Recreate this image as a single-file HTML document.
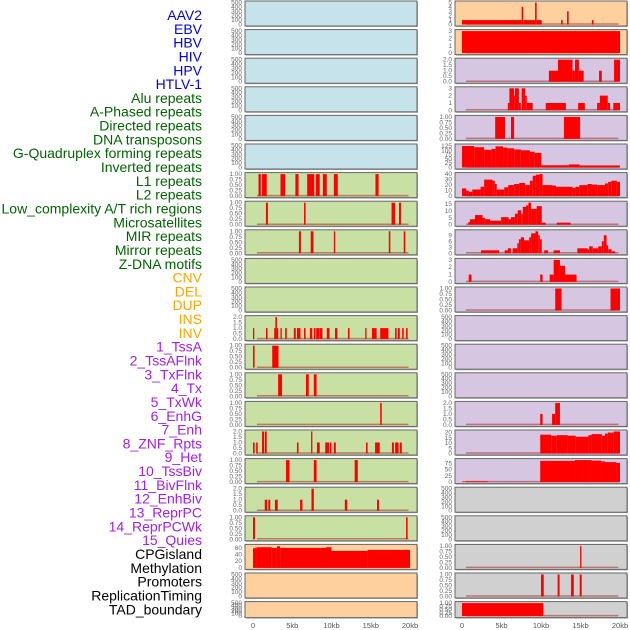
<!DOCTYPE html>
<html><head><meta charset="utf-8">
<style>
html,body{margin:0;padding:0;background:#fff;}
body{width:630px;height:630px;overflow:hidden;font-family:"Liberation Sans",sans-serif;}
svg{display:block;}
</style></head>
<body>
<svg id="chart" width="630" height="630" viewBox="0 0 630 630" xmlns="http://www.w3.org/2000/svg"></svg>
<script>
// ---- category labels ----
const labels = ["AAV2","EBV","HBV","HIV","HPV","HTLV-1","Alu repeats","A-Phased repeats","Directed repeats","DNA transposons","G-Quadruplex forming repeats","Inverted repeats","L1 repeats","L2 repeats","Low_complexity A/T rich regions","Microsatellites","MIR repeats","Mirror repeats","Z-DNA motifs","CNV","DEL","DUP","INS","INV","1_TssA","2_TssAFlnk","3_TxFlnk","4_Tx","5_TxWk","6_EnhG","7_Enh","8_ZNF_Rpts","9_Het","10_TssBiv","11_BivFlnk","12_EnhBiv","13_ReprPC","14_ReprPCWk","15_Quies","CPGisland","Methylation","Promoters","ReplicationTiming","TAD_boundary"];
const labelGroups = ["v","v","v","v","v","v","r","r","r","r","r","r","r","r","r","r","r","r","r","s","s","s","s","s","c","c","c","c","c","c","c","c","c","c","c","c","c","c","c","o","o","o","o","o"];
const xTickLabels = ["0","5kb","10kb","15kb","20kb"];
const xTickValues = [0,5,10,15,20];

// ---- left column data: [startKb, endKb, value] ----
const L_L1 = [[0.7,1.0,1],[1.15,1.75,1],[3.5,4.1,1],[5.4,5.8,1],[6.9,7.8,1],[8.0,8.5,1],[8.9,9.4,1],[10.3,10.8,1],[15.6,16.0,1]];
const L_L2 = [[1.65,1.9,1],[6.5,6.7,1],[17.65,18.1,1],[18.6,18.85,1]];
const L_Low = [[5.85,6.1,1],[7.35,7.7,1],[10.3,10.45,1],[17.3,17.5,1],[19.2,19.4,1]];
const L_INS = [[0,0.1,1],[1.65,1.85,1],[2.7,2.85,1],[2.85,3.05,2],[3.05,3.2,1],[3.5,3.65,1],[4.1,4.3,1],[5.2,5.45,1],[5.6,6.05,1],[6.5,6.7,1],[7.25,7.55,1],[7.75,7.95,1],[8.05,8.45,1],[8.5,8.85,1],[9.4,9.75,1],[10.45,10.75,1],[12.1,12.3,1],[14.3,14.45,1],[15.15,15.75,1],[16.2,17.25,1],[18.1,18.3,1],[18.45,18.7,1],[19.0,19.2,1],[19.5,19.7,1]];
const L_INV = [[0,0.2,1],[2.45,3.25,1]];
const L_TssA = [[3.2,3.7,1],[6.75,7.1,1],[7.75,8.1,1]];
const L_TssAFlnk = [[16.2,16.4,1]];
const L_TxFlnk = [[0,0.2,1],[0.4,0.6,1],[1.15,1.4,2],[1.5,1.75,2],[5.6,5.8,1],[7.4,7.55,2],[8.15,8.5,1],[9.2,9.7,1],[9.8,10.0,1],[10.3,10.55,1],[14.4,14.6,1],[15.55,16.15,1],[17.7,17.95,1],[18.1,18.55,1],[18.7,18.95,1]];
const L_Tx = [[4.2,4.65,1],[7.75,8.1,1],[12.95,13.35,1]];
const L_TxWk = [[1.5,1.8,1],[1.95,2.2,1],[2.8,3.15,1],[6.0,6.3,1],[7.45,7.75,2],[11.7,12.0,1],[15.8,16.05,1]];
const L_EnhG = [[0,0.25,1],[19.5,19.7,1]];
const L_Enh = [[0,0.45,59],[0.45,2.4,62],[2.4,3.05,60],[3.05,3.45,65],[3.45,9.3,60],[9.3,10.0,62],[10.0,14.6,51],[14.6,20,54]];
const L_EMPTY = [];

// ---- right column data ----
const R_AAV2 = [[0,7.55,1],[7.55,7.75,4],[7.75,9.25,1],[9.25,9.45,5],[9.45,10.1,1],[12.55,12.75,1],[13.3,13.5,3],[16.45,16.65,1]];
const R_EBV = [[0,20,3]];
const R_HIV = [[11.0,12.15,1],[12.15,14.0,2],[14.0,14.3,1],[14.3,14.8,2],[14.8,15.4,1],[17.35,17.7,1],[19.25,20,2]];
const R_HPV = [[5.8,6.0,1],[6.0,6.6,3],[6.6,6.7,2],[6.7,7.2,3],[7.2,7.45,1],[7.55,8.0,3],[8.0,8.2,2],[8.2,8.95,1],[10.6,13.15,1],[14.7,15.55,1],[17.1,17.45,1],[17.45,18.45,2],[18.45,18.75,1],[19.15,20,1]];
const R_HTLV = [[4.2,5.45,1],[6.2,6.6,1],[12.9,14.95,1]];
const R_Alu = [[0,1.55,125],[1.55,2.8,118],[2.8,3.75,103],[3.75,4.25,108],[4.25,5.2,123],[5.2,5.75,116],[5.75,6.6,112],[6.6,7.45,105],[7.45,8.6,100],[8.6,9.2,92],[9.2,10.05,85],[10.05,13.5,13],[13.5,14.9,18],[14.9,20,12]];
const R_APhased = [[0,0.55,14],[0.55,0.85,10],[0.85,1.3,8],[1.3,2.35,12],[2.35,2.8,17],[2.8,3.85,30],[3.85,4.15,28],[4.15,4.4,22],[4.4,5.35,12],[5.35,5.85,16],[5.85,6.6,20],[6.6,7.25,22],[7.25,8.0,24],[8.0,8.6,20],[8.6,8.95,28],[8.95,9.35,37],[9.35,9.8,39],[9.8,10.2,40],[10.2,11.45,20],[11.45,11.9,19],[11.9,14.0,17],[14.0,14.35,15],[14.35,14.85,17],[14.85,15.9,20],[15.9,16.45,22],[16.45,17.1,21],[17.1,18.1,20],[18.1,18.5,23],[18.5,18.9,26],[18.9,19.6,28],[19.6,20,26]];
const R_Directed = [[0.8,1.0,2],[1.0,1.64,4],[1.64,2.6,7],[2.6,2.9,5],[2.9,3.55,4],[3.55,4.95,3],[4.95,5.9,5.5],[5.9,6.2,4],[6.2,6.7,5.5],[6.7,7.05,8],[7.05,7.5,10.5],[7.5,7.7,8],[7.7,8.1,13],[8.1,8.4,14],[8.4,8.75,16],[8.75,9.45,11.5],[9.45,10.1,13.5],[10.1,10.6,1.5],[12.0,13.75,1.5]];
const R_DNA = [[2.4,4.7,1.5],[5.4,5.8,1.5],[5.8,6.2,2.5],[6.4,7.0,2.5],[7.0,7.2,5],[7.2,7.45,7],[7.45,7.85,8],[7.85,8.5,6.5],[8.5,8.75,8],[8.75,9.3,10],[9.3,9.65,11],[9.65,9.85,9],[9.85,10.1,7],[10.4,10.9,1.5],[11.6,12.4,1.5],[14.6,15.9,2.5],[15.9,16.1,2],[16.1,16.55,3.5],[16.55,17.25,2.5],[17.25,17.7,3.5],[17.7,17.95,6],[17.95,18.3,9],[18.3,18.5,4],[18.5,18.95,2],[18.95,19.4,1]];
const R_GQuad = [[0.85,1.2,1],[9.9,10.2,1],[11.1,11.6,1],[11.6,12.4,3],[12.4,13.05,2.2],[13.05,14.5,1]];
const R_Inverted = [[11.8,12.6,1],[18.8,20,1]];
const R_MIR = [[9.9,10.2,1],[11.4,11.8,1],[11.8,12.4,2]];
const R_Mirror = [[9.9,11.3,18],[11.3,12.0,17],[12.0,13.4,17.5],[13.4,14.4,17],[14.4,16.0,16],[16.0,16.4,17.5],[16.4,17.7,18.5],[17.7,18.1,17],[18.1,18.45,19],[18.45,19.2,20],[19.2,20,21]];
const R_ZDNA = [[0,3.25,3],[9.9,14.3,85],[14.3,15.25,88],[15.25,16.4,88],[16.4,17.6,86],[17.6,18.1,83],[18.1,19.5,80],[19.5,20,77]];
const R_DUP = [[14.95,15.1,1]];
const R_INS = [[10.0,10.35,1],[12.1,12.35,1],[13.8,14.15,1],[14.9,15.15,1]];
const R_INV = [[0,10.3,1]];
const R_EMPTY = [];

// ---- per-row axis ranges / tick values ----
const T500 = [0,100,200,300,400,500];
const T1 = [0,0.25,0.5,0.75,1];
const T2 = [0,0.5,1,1.5,2];
const leftData = [L_EMPTY,L_EMPTY,L_EMPTY,L_EMPTY,L_EMPTY,L_EMPTY,L_L1,L_L2,L_Low,L_EMPTY,L_EMPTY,L_INS,L_INV,L_TssA,L_TssAFlnk,L_TxFlnk,L_Tx,L_TxWk,L_EnhG,L_Enh,L_EMPTY,L_EMPTY];
const leftMax = [500,500,500,500,500,500,1,1,1,500,500,2,1,1,1,2,1,2,1,66,500,500];
const leftTicks = [T500,T500,T500,T500,T500,T500,T1,T1,T1,T500,T500,T2,T1,T1,T1,T2,T1,T2,T1,[0,20,40,60],T500,T500];
const rightData = [R_AAV2,R_EBV,R_HIV,R_HPV,R_HTLV,R_Alu,R_APhased,R_Directed,R_DNA,R_GQuad,R_Inverted,R_EMPTY,R_EMPTY,R_EMPTY,R_MIR,R_Mirror,R_ZDNA,R_EMPTY,R_EMPTY,R_DUP,R_INS,R_INV];
const rightMax = [5,3,2,3,1,128,40,16,11,3,1,500,500,500,2,21,88,500,500,1,1,1];
const rightTicks = [[0,1,2,3,4,5],[0,1,2,3],T2,[0,1,2,3],T1,[0,25,50,75,100,125],[0,10,20,30,40],[0,5,10,15],[0,3,6,9],[0,1,2,3],T1,T500,T500,T500,T2,[0,5,10,15,20],[0,25,50,75],T500,T500,T1,T1,T1];
const leftColors = ["#c6e3eb","#c6e3eb","#c6e3eb","#c6e3eb","#c6e3eb","#c6e3eb","#c8e0a4","#c8e0a4","#c8e0a4","#c8e0a4","#c8e0a4","#c8e0a4","#c8e0a4","#c8e0a4","#c8e0a4","#c8e0a4","#c8e0a4","#c8e0a4","#c8e0a4","#fdd09e","#fdd09e","#fdd09e"];
const rightColors = ["#fdd09e","#fdd09e","#d6c6e2","#d6c6e2","#d6c6e2","#d6c6e2","#d6c6e2","#d6c6e2","#d6c6e2","#d6c6e2","#d6c6e2","#d6c6e2","#d6c6e2","#d6c6e2","#d6c6e2","#d6c6e2","#d6c6e2","#d0d0d0","#d0d0d0","#d0d0d0","#d0d0d0","#d0d0d0"];

const NS = "http://www.w3.org/2000/svg";
const svg = document.getElementById("chart");
function mk(tag, attrs, parent){ const e=document.createElementNS(NS,tag); for(const k in attrs) e.setAttribute(k,attrs[k]); (parent||svg).appendChild(e); return e; }

const groupColor = {v:"#0000ee",r:"#006400",s:"#ffa500",c:"#a020f0",o:"#000000"};
labels.forEach((t,i)=>{
  const e = mk("text",{x:202,y:15+i*13.82+5,"text-anchor":"end","font-size":"14","fill":groupColor[labelGroups[i]]});
  e.textContent=t;
  
  
});

const cols = [
  {name:"left", px:245, pw:172, x0:253, x20:410, data:leftData, max:leftMax, ticks:leftTicks, colors:leftColors},
  {name:"right", px:455, pw:172, x0:462, x20:620, data:rightData, max:rightMax, ticks:rightTicks, colors:rightColors}
];
function fmt(v, ticks){
  const m = Math.max(...ticks);
  if(m===1) return v.toFixed(2);
  if(m===2) return v.toFixed(1);
  return String(v);
}
cols.forEach(c=>{
  const xs = kb => c.x0 + (c.x20-c.x0)*kb/20;
  for(let r=0;r<22;r++){
    const top = 1 + r*28.6;
    const h = r===21 ? 16 : 25;
    const g = mk("g",{});
    
    
    mk("rect",{x:c.px+1,y:top+1,width:c.pw,height:h,fill:"#aaaaaa"},g);
    const bg = mk("rect",{x:c.px,y:top,width:c.pw,height:h,fill:c.colors[r],stroke:"#666","stroke-width":1},g);
    const yTop = top+1.5, yBot = top+h-1.5;
    const ys = v => yBot - (yBot-yTop)*v/c.max[r];
    const d = c.data[r];
    if(d.length){
      const bl = mk("line",{x1:xs(0.5),x2:xs(19.8),y1:yBot-0.5,y2:yBot-0.5,stroke:"rgba(170,40,40,0.55)","stroke-width":1.5},g);
      
      
    }
    d.forEach(s=>{
      const x1 = xs(s[0]), x2 = xs(s[1]);
      const b = mk("rect",{x:x1,y:ys(s[2]),width:Math.max(1.3,x2-x1),height:yBot-ys(s[2]),fill:"#ff0000"},g);
      
      
    });
    c.ticks[r].forEach(tv=>{
      const t = mk("text",{x:c.px-3,y:ys(tv)+2,"text-anchor":"end","font-size":"6.5","fill":"#666"},g);
      t.textContent = fmt(tv,c.ticks[r]);
      
      
    });
  }
  xTickValues.forEach((v,i)=>{
    const t = mk("text",{x:xs(v),y:628,"text-anchor":"middle","font-size":"7.5","fill":"#555"});
    t.textContent = xTickLabels[i];
    
    
  });
});
</script>
</body></html>
